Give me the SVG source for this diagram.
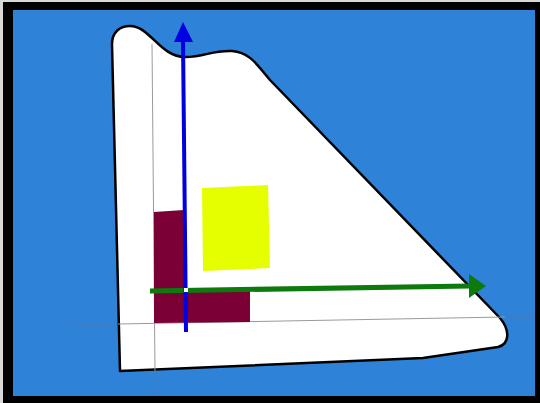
<svg xmlns="http://www.w3.org/2000/svg" width="540" height="403" viewBox="0 0 540 403">
<style>
.grid{stroke:#9a9a9a;stroke-width:1;fill:none}
.faint{stroke:#5577aa;stroke-width:1;fill:none;opacity:0.6}
</style>
<rect x="0" y="0" width="540" height="403" fill="#d8d8d8"/>
<rect x="3" y="2" width="537" height="401" fill="#000"/>
<rect x="13" y="10" width="522" height="386" fill="#2E83D9"/>
<g id="faint-lines">
<line class="faint" x1="70" y1="325" x2="118" y2="324"/>
<line class="faint" x1="505" y1="317" x2="535" y2="316"/>
<line class="faint" x1="155" y1="371" x2="155" y2="396"/>
</g>
<g id="wing">
<path d="M112,44 C112,32 120,26 130,26 C150,26 160,57 185,57 C205,57 212,50 232,51 C250,52 258,66 270,80 L500,318 C510,330 510,344 498,347 L423,358 L120,371 Z" fill="#fff" stroke="#000" stroke-width="2.5" stroke-linejoin="round"/>
</g>
<g id="grid">
<line class="grid" x1="152" y1="44" x2="155" y2="371"/>
<line class="grid" x1="118" y1="324" x2="505" y2="317"/>
</g>
<g id="maroon">
<path d="M154,212 L184,210 L184,290 L250,289 L250,322 L154,323 Z" fill="#7A0036"/>
</g>
<g id="yellow">
<path d="M202,188 L268,185 L270,268 L203,271 Z" fill="#E5FF00"/>
</g>
<g id="connectors">
<line x1="150" y1="291" x2="470" y2="286" stroke="#0D7A0D" stroke-width="5"/>
<path d="M469,274 L486,286 L469,298 Z" fill="#0D7A0D"/>
<line x1="186" y1="332" x2="183" y2="40" stroke="#0000E0" stroke-width="4"/>
<path d="M174,42 L183,22 L193,42 Z" fill="#0000E0"/>
<rect x="184" y="288" width="4" height="4" fill="#fff"/>
</g>
</svg>
